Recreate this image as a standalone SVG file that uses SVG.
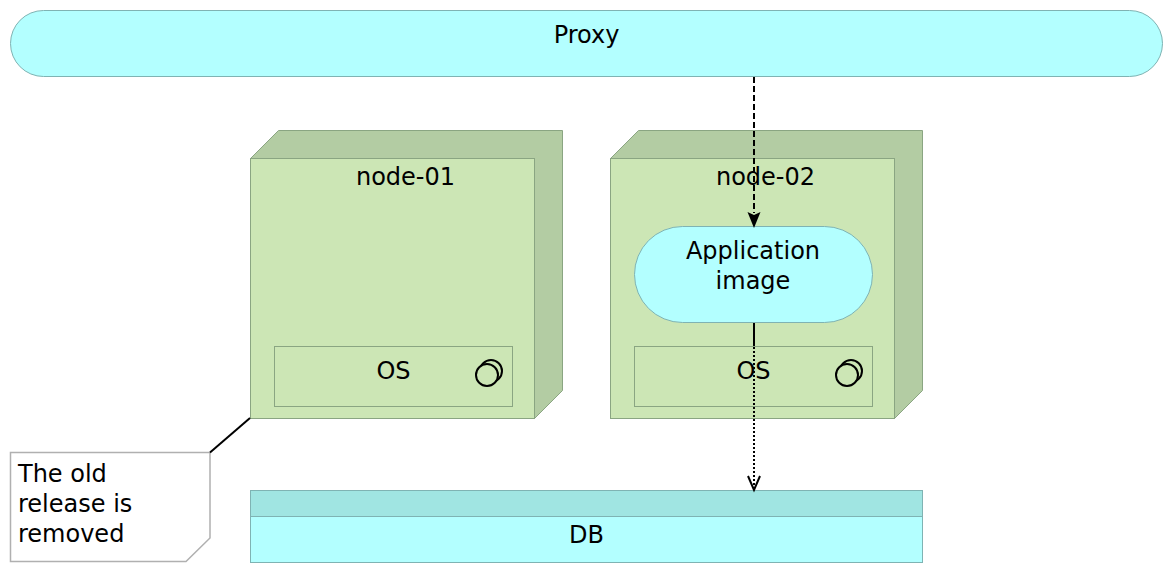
<svg xmlns="http://www.w3.org/2000/svg" width="1174" height="574" viewBox="0 0 1174 574">
<style>
text{font-family:"DejaVu Sans",sans-serif;font-size:24px;fill:#000;text-anchor:middle}
.l{text-anchor:start}
.box{fill:#cce6b5;stroke:#8aa582}
.dark{fill:#b3cca3;stroke:#8aa582}
.cy{fill:#b3ffff;stroke:#7fb3b3}
.cyd{fill:#a0e5e2;stroke:#7fb3b3}
.ring{fill:none;stroke:#000;stroke-width:2}
.c{fill:none;stroke:#000;stroke-width:2}
</style>
<defs>
<marker id="solid" markerUnits="userSpaceOnUse" markerWidth="14" markerHeight="16" refX="6.5" refY="15" orient="auto-start-reverse" viewBox="0 0 13 16"><path d="M0 0L6.5 3 13 0 6.5 15Z" fill="#000" transform="translate(0,0)"/></marker>
</defs>
<g id="proxy"><rect class="cy" x="10.500" y="10.500" width="1152" height="66" rx="33" ry="33"/><text x="586.500" y="43">Proxy</text></g>
<g id="node-01">
<path class="dark" d="M250.500 158.500L278.500 130.500H562.500V390.500L534.500 418.500V158.500Z"/>
<rect class="box" x="250.500" y="158.500" width="284" height="260"/>
<text x="405.500" y="185">node-01</text>
<g id="os-01"><rect class="box" x="274.500" y="346.500" width="238" height="60"/><text x="393.500" y="379">OS</text><circle class="ring" cx="491" cy="371" r="11"/><circle class="ring" cx="487" cy="375" r="11" fill="#cce6b5" style="fill:#cce6b5"/></g>
</g>
<g id="node-02">
<path class="dark" d="M610.500 158.500L638.500 130.500H922.500V390.500L894.500 418.500V158.500Z"/>
<rect class="box" x="610.500" y="158.500" width="284" height="260"/>
<text x="765.500" y="185">node-02</text>
<g id="os-02"><rect class="box" x="634.500" y="346.500" width="238" height="60"/><text x="753.500" y="379">OS</text><circle class="ring" cx="851" cy="371" r="11"/><circle class="ring" cx="847" cy="375" r="11" style="fill:#cce6b5"/></g>
</g>
<g id="application-image"><rect class="cy" x="634.500" y="226.500" width="238" height="96" rx="48" ry="48"/><text x="753" y="259">Application</text><text x="753" y="289">image</text></g>
<g id="db"><rect class="cy" x="250.500" y="490.500" width="672" height="72"/><rect class="cyd" x="250.500" y="490.500" width="672" height="26"/><text x="586.500" y="543">DB</text></g>
<g id="note"><path d="M10.500 452.500H210V538L186 561.500H10.500Z" fill="#fff" stroke="#b0b0b0" stroke-width="1.500"/><text class="l" x="18" y="482">The old</text><text class="l" x="18" y="512">release is</text><text class="l" x="18" y="542">removed</text></g>
<g id="connectors">
<path class="c" d="M754 77V213" stroke-dasharray="6 3"/>
<path d="M747.500 212L754 215 760.500 212 754 228Z" fill="#000"/>
<path class="c" d="M754 323V346"/>
<path class="c" d="M754 347V490" stroke-dasharray="2 2"/>
<path class="c" d="M748 476L754 490 760 476" stroke-width="1.500"/>
<path class="c" d="M250 418L210 452.500"/>
</g>
</svg>
